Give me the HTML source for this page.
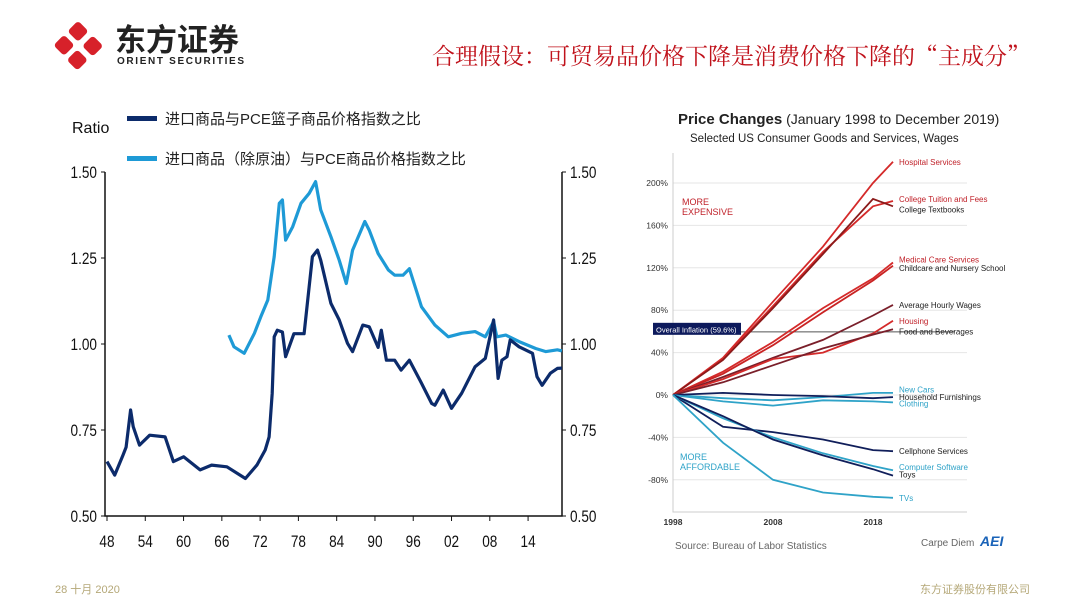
<!DOCTYPE html>
<html><head><meta charset="utf-8"><style>
html,body{margin:0;padding:0;background:#fff;}
svg{display:block;}
text{font-family:"Liberation Sans","Noto Sans CJK SC",sans-serif;}
</style></head><body>
<svg id="s" width="1080" height="608" viewBox="0 0 1080 608" xmlns="http://www.w3.org/2000/svg">
<g>
 <g fill="#d7212a" transform="translate(78,46)">
  <rect x="-8" y="-22" width="15" height="15" rx="3.5" transform="rotate(45 0 -14)"/>
  <rect x="-8" y="7" width="15" height="15" rx="3.5" transform="rotate(45 0 14)"/>
  <rect x="-22" y="-8" width="15" height="15" rx="3.5" transform="rotate(45 -14 0)"/>
  <rect x="7" y="-8" width="15" height="15" rx="3.5" transform="rotate(45 14 0)"/>
 </g>
 <text x="115" y="51" font-size="31" font-weight="bold" fill="#222">东方证券</text>
 <text x="117" y="64" font-size="10" font-weight="bold" fill="#222" textLength="127">ORIENT SECURITIES</text>
</g>
<text x="1030" y="64" text-anchor="end" font-size="23" fill="#c0121b" style='font-family:"Noto Serif CJK SC",serif'>合理假设：可贸易品价格下降是消费价格下降的“主成分”</text>

<g id="left">
 <text x="72" y="133" font-size="16" fill="#111">Ratio</text>
 <rect x="127" y="116" width="30" height="5" fill="#0c2b6b"/>
 <text x="165" y="124" font-size="15" fill="#222">进口商品与PCE篮子商品价格指数之比</text>
 <rect x="127" y="156" width="30" height="5" fill="#1e9ad6"/>
 <text x="165" y="164" font-size="15" fill="#222">进口商品（除原油）与PCE商品价格指数之比</text>
</g>
<g id="right">
 <text x="678" y="124" font-size="14" fill="#222"><tspan font-weight="bold" font-size="15">Price Changes</tspan> (January 1998 to December 2019)</text>
 <text x="690" y="142" font-size="11.5" fill="#222">Selected US Consumer Goods and Services, Wages</text>
 <text x="675" y="549" font-size="10" fill="#666">Source: Bureau of Labor Statistics</text>
 <text x="921" y="546" font-size="10" fill="#666">Carpe Diem</text>
 <text x="980" y="546" font-size="14" font-weight="bold" font-style="italic" fill="#1a63b8">AEI</text>
</g>
<text x="55" y="593" font-size="11" fill="#b5a878">28 十月 2020</text>
<text x="1030" y="593" text-anchor="end" font-size="11" fill="#b5a878">东方证券股份有限公司</text>
</svg>
<script>
const NS="http://www.w3.org/2000/svg";
// ---- left chart data ----
const darkYears=[1948,1949.2,1950.5,1951,1951.7,1952.1,1953.1,1954.7,1957.1,1958.4,1960,1962.6,1964.4,1966.8,1969.7,1971.5,1972.8,1973.4,1973.9,1974.2,1974.7,1975.5,1976,1977.3,1978.9,1980.2,1981,1981.5,1983.1,1984.4,1985.7,1986.5,1988.1,1989.1,1990.5,1991,1991.8,1993.1,1994.1,1995.4,1997.3,1998.9,1999.4,2000.7,2002,2003.6,2005.7,2007.3,2008.6,2009.3,2009.9,2010.7,2011.2,2012.6,2014.7,2015.4,2016.2,2017.5,2018.6,2019.3];
const darkValues=[0.658,0.619,0.677,0.70,0.808,0.76,0.706,0.735,0.73,0.658,0.672,0.634,0.648,0.643,0.609,0.648,0.692,0.73,0.857,1.021,1.04,1.035,0.963,1.03,1.03,1.254,1.273,1.244,1.118,1.07,1.002,0.978,1.055,1.05,0.99,1.04,0.953,0.953,0.924,0.953,0.886,0.827,0.822,0.866,0.813,0.857,0.934,0.958,1.07,0.9,0.953,0.963,1.012,0.992,0.973,0.905,0.88,0.915,0.929,0.93];
const lightYears=[1967.1,1967.9,1969.5,1971.1,1972.1,1973.2,1974.2,1975,1975.5,1976,1977.1,1978.4,1979.7,1980.7,1981.5,1983.1,1984.4,1985.5,1986.5,1988.4,1989.1,1990.5,1992.1,1993.1,1994.4,1995.4,1997.3,1999.4,2001.5,2003.6,2005.7,2007.3,2008.6,2009.1,2010.5,2012.6,2015.2,2016.8,2018.6,2019.3];
const lightValues=[1.026,0.992,0.973,1.031,1.079,1.128,1.254,1.409,1.419,1.302,1.341,1.409,1.438,1.472,1.39,1.312,1.244,1.176,1.273,1.356,1.331,1.263,1.215,1.2,1.2,1.219,1.108,1.055,1.021,1.031,1.036,1.021,1.065,1.021,1.026,1.007,0.987,0.978,0.983,0.98];
const leftTicks=[0.5,0.75,1.0,1.25,1.5];
const leftTickLabels=["0.50","0.75","1.00","1.25","1.50"];
const xTickYears=[1948,1954,1960,1966,1972,1978,1984,1990,1996,2002,2008,2014];
const xTickLabels=["48","54","60","66","72","78","84","90","96","02","08","14"];
// ---- right chart data ----
const rYears=[1998,2003,2008,2013,2018,2020];
const rNames=["Hospital Services","College Tuition and Fees","College Textbooks","Medical Care Services","Childcare and Nursery School","Average Hourly Wages","Housing","Food and Beverages","New Cars","Household Furnishings","Clothing","Cellphone Services","Computer Software","Toys","TVs"];
const rValues=[[0,35,88,140,200,220],[0,34,84,135,178,183],[0,33,82,133,185,178],[0,22,50,82,110,125],[0,20,47,78,108,122],[0,17,35,52,75,85],[0,15,34,40,58,70],[0,12,28,44,57,62],[0,-3,-5,-2,2,2],[0,2,0,-1,-3,-2],[0,-6,-10,-5,-6,-7],[0,-30,-35,-42,-52,-53],[0,-22,-40,-55,-67,-71],[0,-20,-42,-57,-70,-76],[0,-45,-80,-92,-96,-97]];
const rColors=["#d42a2a","#d42a2a","#8b1a1a","#d42a2a","#c92323","#7a1f2a","#d42a2a","#7a1f2a","#2fa3c8","#101e5a","#2fa3c8","#101e5a","#2fa3c8","#101e5a","#2fa3c8"];
const rLabelColors=["#c0222a","#c0222a","#222","#c0222a","#222","#222","#c0222a","#222","#2fa3c8","#222","#2fa3c8","#222","#2fa3c8","#222","#2fa3c8"];
const rLabelY=[220,185,175,128,120,85,70,60,5,-2,-8,-53,-68,-75,-97];
const rTicks=[-80,-40,0,40,80,120,160,200];
const rTickLabels=["-80%","-40%","0%","40%","80%","120%","160%","200%"];
const rXTicks=[1998,2008,2018];
const inflation=59.6;

const svg=document.getElementById("s");
function mk(tag,attrs,parent){const e=document.createElementNS(NS,tag);for(const k in attrs)e.setAttribute(k,attrs[k]);(parent||svg).appendChild(e);return e;}
const lx=y=>107+(y-1948)*6.38;
const ly=v=>516-(v-0.5)*344;
const L=document.getElementById("left");
let e=mk("path",{d:`M105 ${ly(1.5)}V516H562V${ly(1.5)}`,fill:"none",stroke:"#111","stroke-width":1.5},L);


leftTicks.forEach((v,i)=>{
 mk("line",{x1:101,x2:105,y1:ly(v),y2:ly(v),stroke:"#111"},L);
 mk("line",{x1:562,x2:566,y1:ly(v),y2:ly(v),stroke:"#111"},L);
 let t=mk("text",{x:97,y:ly(v)+6,"text-anchor":"end","font-size":17,fill:"#111",transform:`translate(${97*0.2},0) scale(0.8,1)`},L);t.textContent=leftTickLabels[i];
 
 
 t=mk("text",{x:570,y:ly(v)+6,"font-size":17,fill:"#111",transform:`translate(${570*0.2},0) scale(0.8,1)`},L);t.textContent=leftTickLabels[i];
 
 
});
xTickYears.forEach((y,i)=>{
 mk("line",{x1:lx(y),x2:lx(y),y1:516,y2:521,stroke:"#111"},L);
 const t=mk("text",{x:lx(y)/0.8,y:547,"text-anchor":"middle","font-size":17,fill:"#111",transform:"scale(0.8,1)"},L);t.textContent=xTickLabels[i];
 
 
});
function poly(xs,vs,fx,fy){return xs.map((x,i)=>(i?"L":"M")+fx(x).toFixed(1)+" "+fy(vs[i]).toFixed(1)).join("");}
e=mk("path",{d:poly(lightYears,lightValues,lx,ly),fill:"none",stroke:"#1e9ad6","stroke-width":3.2,"stroke-linejoin":"round"},L);


e=mk("path",{d:poly(darkYears,darkValues,lx,ly),fill:"none",stroke:"#0c2b6b","stroke-width":3.2,"stroke-linejoin":"round"},L);


const rx=y=>673+(y-1998)*10;
const ry=v=>395-v*1.06;
const R=document.getElementById("right");
rTicks.forEach((v,i)=>{
 mk("line",{x1:673,x2:967,y1:ry(v),y2:ry(v),stroke:"#e6e6e6"},R);
 const t=mk("text",{x:668,y:ry(v)+3,"text-anchor":"end","font-size":8.5,fill:"#333"},R);t.textContent=rTickLabels[i];
 
 
});
e=mk("path",{d:"M673 153V512H967",fill:"none",stroke:"#ccc"},R);


rXTicks.forEach(y=>{const t=mk("text",{x:rx(y),y:525,"text-anchor":"middle","font-size":8.5,"font-weight":"bold",fill:"#333"},R);t.textContent=String(y);
 
 });
e=mk("line",{x1:673,x2:955,y1:ry(inflation),y2:ry(inflation),stroke:"#555","stroke-width":1},R);


e=mk("rect",{x:653,y:ry(inflation)-9,width:88,height:12,fill:"#0d1a5c"},R);


e=mk("text",{x:656,y:ry(inflation)+0.5,"font-size":7.5,fill:"#fff"},R);e.textContent="Overall Inflation (59.6%)";


rNames.forEach((n,i)=>{
 const p=mk("path",{d:poly(rYears,rValues[i],rx,ry),fill:"none",stroke:rColors[i],"stroke-width":1.8},R);
 
 
 const t=mk("text",{x:rx(2020)+6,y:ry(rLabelY[i])+3,"font-size":8,fill:rLabelColors[i]},R);t.textContent=n;
 
 
});
e=mk("text",{x:682,y:205,"font-size":9,fill:"#c0222a"},R);e.textContent="MORE";


e=mk("text",{x:682,y:215,"font-size":9,fill:"#c0222a"},R);e.textContent="EXPENSIVE";


e=mk("text",{x:680,y:460,"font-size":9,fill:"#2fa3c8"},R);e.textContent="MORE";


e=mk("text",{x:680,y:470,"font-size":9,fill:"#2fa3c8"},R);e.textContent="AFFORDABLE";


</script>
</body></html>
